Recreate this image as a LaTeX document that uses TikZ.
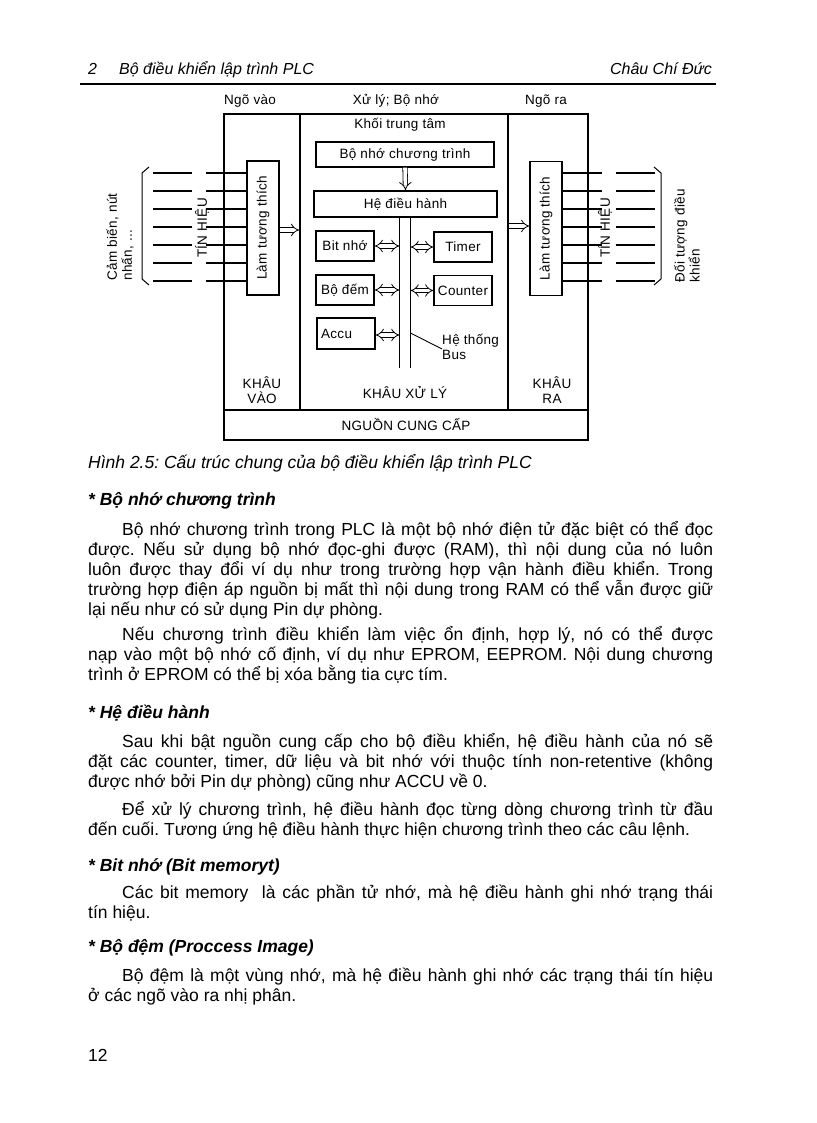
\documentclass[tikz,border=0pt]{standalone}
\usepackage{fontspec}
\usepackage{graphicx}
\setmainfont{Liberation Sans}
\newfontfamily\diagfont[LetterSpace=2.5]{Liberation Sans}
\usetikzlibrary{arrows.meta,positioning,calc}
\newcommand{\vtext}[1]{\rotatebox{90}{#1}}

\begin{document}
\frenchspacing
\begin{tikzpicture}[x=1pt,y=-1pt,font=\diagfont\fontsize{13.5}{15}\selectfont,
sec/.style={draw,line width=1.4pt,inner sep=0pt},
box/.style={draw,line width=1.2pt,inner sep=0pt,align=center},
hollow/.style={double,double distance=3.6pt,line width=0.8pt,-{Implies}},
hollowboth/.style={hollow,{Implies}-{Implies}},
sig/.style={line width=1.1pt},
lbl/.style={inner sep=0pt,align=center},
pagetxt/.style={inner sep=0pt,anchor=base west,font=\fontsize{17.5}{20}\selectfont},
para/.style={pagetxt,text width=625pt,align=justify},
headtxt/.style={pagetxt,font=\fontsize{17.5}{20}\selectfont\bfseries\itshape}]
\useasboundingbox (0,0) rectangle (816,1123);
% page header
\node[pagetxt,font=\fontsize{16}{20}\selectfont\itshape] (pgno) at (88,75) {2};
\node[pagetxt,font=\fontsize{16}{20}\selectfont\itshape] (booktitle) at (119,75) {Bộ điều khiển lập trình PLC};
\node[pagetxt,anchor=base east,font=\fontsize{16}{20}\selectfont\itshape] (author) at (712,75) {Châu Chí Đức};
\draw[line width=2.4pt] (80,84) -- (716,84);
% column titles
\node[lbl] (tvao) at (250,101) {Ngõ vào};
\node[lbl] (txuly) at (396,101) {Xử lý; Bộ nhớ};
\node[lbl] (tra) at (546,101) {Ngõ ra};
% sections
\node[sec,minimum width=76pt,minimum height=296pt] (vao) at (262,262) {};
\node[sec,minimum width=208pt,minimum height=296pt] (xuly) at (404,262) {};
\node[sec,minimum width=80pt,minimum height=296pt] (ra) at (548,262) {};
\node[sec,minimum width=364pt,minimum height=30pt] (nguon) at (406,425) {NGUỒN CUNG CẤP};
\node[lbl] (khauvao) at (262,390) {KHÂU\\VÀO};
\node[lbl] (khauxuly) at (405,393) {KHÂU XỬ LÝ};
\node[lbl] (khaura) at (552,390) {KHÂU\\RA};
\node[lbl] (khoi) at (400,125) {Khối trung tâm};
% central block
\node[box,minimum width=178pt,minimum height=25pt] (bnct) at (405,154.5) {Bộ nhớ chương trình};
\node[box,minimum width=183pt,minimum height=26pt] (hdh) at (405.5,204) {Hệ điều hành};
\node[box,minimum width=58pt,minimum height=30pt] (bitnho) at (345,246) {Bit nhớ};
\node[box,minimum width=58pt,minimum height=30pt] (timer) at (463,247) {Timer};
\node[box,minimum width=58pt,minimum height=30pt] (bodem) at (345,290) {Bộ đếm};
\node[box,minimum width=58pt,minimum height=30pt] (counter) at (463,290.5) {Counter};
\node[box,minimum width=58pt,minimum height=31pt,text width=50pt,align=left] (accu) at (346,333.5) {Accu\\[2pt]};
\coordinate (busL) at (399.5,368);
\coordinate (busR) at (410.5,368);
\node[lbl,anchor=west,align=left] (busnote) at (442,347) {Hệ thống\\Bus};
\draw[line width=1.2pt] (hdh.south -| busL) -- (busL);
\draw[line width=1.2pt] (hdh.south -| busR) -- (busR);
\draw[hollow] (bnct.south) -- (hdh.north);
\draw[hollowboth] (bitnho.east) -- (bitnho.east -| busL);
\draw[hollowboth] (timer.west) -- (timer.west -| busR);
\draw[hollowboth] (bodem.east) -- (bodem.east -| busL);
\draw[hollowboth] (counter.west) -- (counter.west -| busR);
\draw[hollowboth] ([yshift=-1.5pt]accu.east) -- ([yshift=-1.5pt]accu.east -| busL);
\draw[line width=0.9pt] (busR |- 0,333) -- ([yshift=-2pt]busnote.west);
% input / output adaption
\node[box,minimum width=32pt,minimum height=134pt] (lin) at (263,228) {\vtext{Làm tương thích}};
\node[box,minimum width=32pt,minimum height=134pt] (lout) at (546,228.5) {\vtext{Làm tương thích}};
\draw[hollow] ([yshift=-2pt]lin.east) -- ([yshift=-2pt]lin.east -| xuly.west);
\draw[hollow] (xuly.east |- 0,226) -- (lout.west |- 0,226);
\foreach \y in {173,191,...,281}{
  \draw[sig] (lin.west |- 0,\y) -- ++(-40,0);
  \draw[sig] ([xshift=-54pt]lin.west |- 0,\y) -- ++(-39,0);
  \draw[sig] (lout.east |- 0,\y) -- ++(39,0);
  \draw[sig] ([xshift=53pt]lout.east |- 0,\y) -- ++(39,0);
}
\draw[line width=1pt] (149,167) -- (142,173) -- (142,279) -- (149,285);
\draw[line width=1pt] (654,167) -- (661,173) -- (661,279) -- (654,285);
\node[lbl,rotate=90] (tinin) at (202,228) {TÍN HIỆU};
\node[lbl,rotate=90] (tinout) at (605,228) {TÍN HIỆU};
\node[lbl,rotate=90,align=left] (cambien) at (120,237) {Cảm biến, nút\\nhấn, ...};
\node[lbl,rotate=90,align=left] (doituong) at (687,236) {Đối tượng điều\\khiển};
% caption and text
\node[pagetxt,font=\fontsize{17.5}{20}\selectfont\itshape] (caption) at (88,468) {Hình 2.5: Cấu trúc chung của bộ điều khiển lập trình PLC};
\node[headtxt] (h1) at (88,505) {* Bộ nhớ chương trình};
\node[para] (p1) at (88,535) {\hspace*{34pt}Bộ nhớ chương trình trong PLC là một bộ nhớ điện tử đặc biệt có thể đọc\linebreak được. Nếu sử dụng bộ nhớ đọc-ghi được (RAM), thì nội dung của nó luôn\linebreak luôn được thay đổi ví dụ như trong trường hợp vận hành điều khiển. Trong\linebreak trường hợp điện áp nguồn bị mất thì nội dung trong RAM có thể vẫn được giữ\linebreak lại nếu như có sử dụng Pin dự phòng.};
\node[para] (p2) at (88,640) {\hspace*{34pt}Nếu chương trình điều khiển làm việc ổn định, hợp lý, nó có thể được\linebreak nạp vào một bộ nhớ cố định, ví dụ như EPROM, EEPROM. Nội dung chương\linebreak trình ở EPROM có thể bị xóa bằng tia cực tím.};
\node[headtxt] (h2) at (88,718) {* Hệ điều hành};
\node[para] (p3) at (88,747) {\hspace*{34pt}Sau khi bật nguồn cung cấp cho bộ điều khiển, hệ điều hành của nó sẽ\linebreak đặt các counter, timer, dữ liệu và bit nhớ với thuộc tính non-retentive (không\linebreak được nhớ bởi Pin dự phòng) cũng như ACCU về 0.};
\node[para] (p4) at (88,815) {\hspace*{34pt}Để xử lý chương trình, hệ điều hành đọc từng dòng chương trình từ đầu\linebreak đến cuối. Tương ứng hệ điều hành thực hiện chương trình theo các câu lệnh.};
\node[headtxt] (h3) at (88,871) {* Bit nhớ (Bit memoryt)};
\node[para] (p5) at (88,898) {\hspace*{34pt}Các bit memory\ \ là các phần tử nhớ, mà hệ điều hành ghi nhớ trạng thái\linebreak tín hiệu.};
\node[headtxt] (h4) at (88,952) {* Bộ đệm (Proccess Image)};
\node[para] (p6) at (88,981) {\hspace*{34pt}Bộ đệm là một vùng nhớ, mà hệ điều hành ghi nhớ các trạng thái tín hiệu\linebreak ở các ngõ vào ra nhị phân.};
\node[pagetxt] (pgnum) at (88,1061) {12};
\end{tikzpicture}
\end{document}
